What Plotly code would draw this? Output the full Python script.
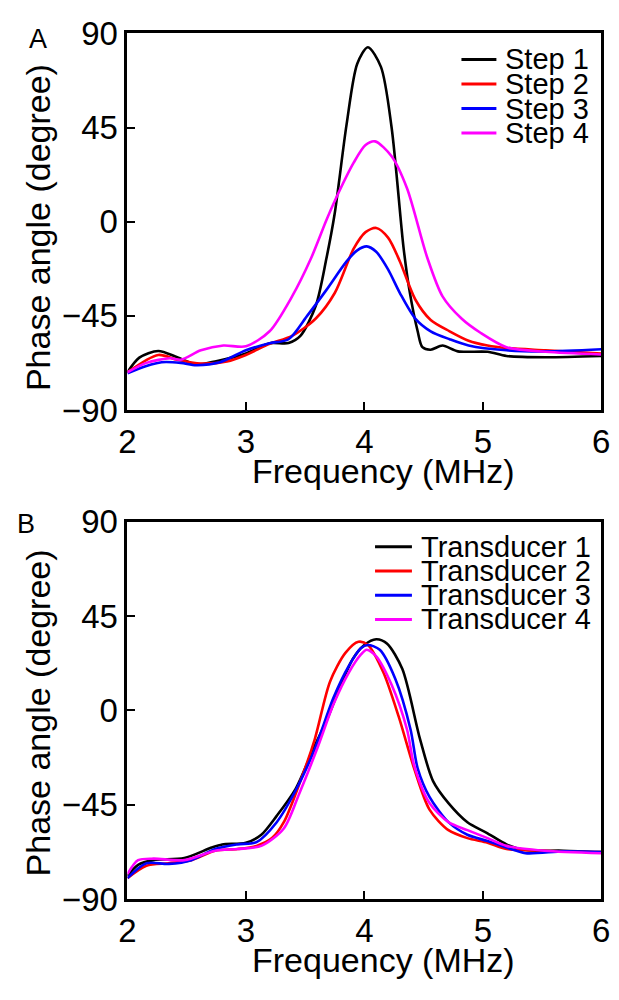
import plotly.graph_objects as go

W, H = 619, 1000

# ---------------- Data ----------------
step_names = ["Step 1", "Step 2", "Step 3", "Step 4"]
trans_names = ["Transducer 1", "Transducer 2", "Transducer 3", "Transducer 4"]
colors = ["#000000", "#ff0000", "#0000ff", "#ff00ff"]

step1_f = [2.0, 2.1, 2.26, 2.42, 2.58, 2.74, 3.0, 3.2, 3.36, 3.46, 3.59, 3.68, 3.75, 3.85, 3.94, 4.03,
           4.14, 4.23, 4.33, 4.38, 4.45, 4.49, 4.56, 4.66, 4.79, 5.04, 5.2, 5.53, 6.0]
step1_v = [-72, -65, -61.8, -64.8, -68.3, -66.8, -63, -58.1, -58, -54.6, -40.2, -17.5, 4, 46.5, 75.5, 83.4,
           74, 45, -12, -32.6, -52.4, -60, -61.2, -59.2, -62, -62.2, -64.2, -64.8, -64.2]

step2_f = [2.0, 2.26, 2.42, 2.62, 2.84, 3.0, 3.2, 3.39, 3.59, 3.75, 3.91, 4.01, 4.1, 4.2, 4.3, 4.43,
           4.56, 4.72, 4.88, 5.04, 5.2, 5.53, 6.0]
step2_v = [-72, -63.7, -66, -67.8, -66.8, -63.7, -58.4, -54.6, -46.3, -34.1, -12.9, -5, -3, -7.6, -19, -37.2,
           -47, -52.4, -56.9, -59.2, -60.4, -61.5, -63]

step3_f = [2.0, 2.16, 2.29, 2.45, 2.58, 2.78, 3.0, 3.2, 3.36, 3.52, 3.68, 3.85, 3.94, 4.02, 4.1, 4.2,
           4.3, 4.43, 4.56, 4.72, 4.88, 5.2, 5.53, 6.0]
step3_v = [-72.5, -69, -67.2, -67.5, -68.6, -67.2, -61.5, -58.1, -56.2, -44.8, -32.6, -19, -13.7, -11.8, -14.4, -22.8,
           -34.1, -46.3, -52.4, -56.2, -59.2, -61.5, -62, -61]

step4_f = [2.0, 2.16, 2.36, 2.45, 2.62, 2.81, 3.0, 3.2, 3.39, 3.55, 3.68, 3.75, 3.91, 4.01, 4.09, 4.23,
           4.36, 4.53, 4.66, 4.82, 4.98, 5.2, 5.53, 6.0]
step4_v = [-72, -67.5, -65.3, -66, -61.5, -59.2, -59.6, -52.4, -35.7, -17.5, 0.8, 9.9, 28.2, 36.6, 38.4, 31.3,
           16, -17, -35.7, -46.3, -53.1, -60, -62.2, -63.5]

tr1_f = [2.0, 2.09, 2.22, 2.48, 2.71, 2.8, 3.0, 3.13, 3.26, 3.42, 3.58, 3.68, 3.77, 3.9, 4.0, 4.1,
         4.19, 4.32, 4.47, 4.58, 4.71, 4.87, 5.04, 5.2, 5.36, 5.68, 6.0]
tr1_v = [-79, -73.7, -71.4, -70.4, -65.4, -63.9, -63.1, -59.3, -50.3, -37.4, -17, -5, 7.6, 24.3, 31.2, 33.9,
         31.9, 19.8, -13.7, -33.7, -44.2, -53.3, -58.6, -63.9, -66.6, -66.9, -67.6]

tr2_f = [2.0, 2.16, 2.35, 2.54, 2.74, 2.93, 3.09, 3.22, 3.32, 3.45, 3.58, 3.71, 3.84, 3.95, 4.03, 4.16,
         4.29, 4.42, 4.55, 4.71, 4.87, 5.04, 5.2, 5.52, 6.0]
tr2_v = [-80, -74.1, -72.9, -71.4, -66.9, -66.1, -64.6, -60.9, -53.3, -35.2, -14, 13.7, 27.4, 32.7, 31.2, 18.2,
         -3, -27.6, -47.3, -57.1, -60.9, -63.1, -66.1, -66.9, -67.6]

tr3_f = [2.0, 2.16, 2.35, 2.54, 2.74, 2.93, 3.09, 3.26, 3.42, 3.58, 3.74, 3.87, 3.97, 4.03, 4.13, 4.26,
         4.39, 4.45, 4.55, 4.71, 4.87, 5.04, 5.2, 5.36, 5.68, 6.0]
tr3_v = [-80, -72.9, -73.2, -71.4, -66.1, -63.9, -62.8, -53.3, -38.2, -18.6, 6.1, 21.3, 29.6, 31.2, 28.9, 15.2,
         -9.1, -27.6, -41.2, -53.3, -59.3, -62.3, -65.4, -68.1, -67.2, -67.6]

tr4_f = [2.0, 2.09, 2.22, 2.48, 2.74, 2.93, 3.13, 3.32, 3.45, 3.61, 3.74, 3.87, 3.97, 4.02, 4.1, 4.23,
         4.36, 4.42, 4.55, 4.71, 4.87, 5.04, 5.2, 5.52, 6.0]
tr4_v = [-78, -71.4, -70.7, -71.4, -66.9, -66.1, -64.6, -56.3, -39.7, -17, 3, 18.2, 26.6, 28.9, 25.8, 12.2,
         -9.1, -26.1, -44.2, -53.3, -57.1, -60.9, -64.6, -66.9, -68.1]

x_ticks = [2, 3, 4, 5, 6]
y_ticks = [-90, -45, 0, 45, 90]

# ---------------- Layout helpers ----------------
def px(x):
    return x / W

def py(y):
    return 1 - y / H

FONT = "Liberation Sans, Arial, sans-serif"

fig = go.Figure()

top_series = [(step1_f, step1_v), (step2_f, step2_v), (step3_f, step3_v), (step4_f, step4_v)]
bot_series = [(tr1_f, tr1_v), (tr2_f, tr2_v), (tr3_f, tr3_v), (tr4_f, tr4_v)]

for (f, v), name, c in zip(top_series, step_names, colors):
    fig.add_trace(go.Scatter(x=f, y=v, mode="lines", name=name, xaxis="x", yaxis="y",
                             line=dict(color=c, width=2.6, shape="spline", smoothing=0.8),
                             showlegend=False))
for (f, v), name, c in zip(bot_series, trans_names, colors):
    fig.add_trace(go.Scatter(x=f, y=v, mode="lines", name=name, xaxis="x2", yaxis="y2",
                             line=dict(color=c, width=2.6, shape="spline", smoothing=0.8),
                             showlegend=False))

axis_common = dict(showline=True, linecolor="black", linewidth=3, mirror=True,
                   ticks="inside", ticklen=8, tickwidth=2, tickcolor="black",
                   showgrid=False, zeroline=False, ticklabeloverflow="allow",
                   tickfont=dict(family=FONT, size=33, color="black"))

x_dom = [px(122), px(610)]
fig.update_layout(
    width=W, height=H,
    margin=dict(l=0, r=0, t=0, b=0),
    paper_bgcolor="white", plot_bgcolor="white",
    showlegend=False,
    xaxis=dict(domain=x_dom, range=[2, 6], tickvals=x_ticks, anchor="y", **axis_common),
    yaxis=dict(domain=[py(407), py(16)], range=[-90, 90], tickvals=y_ticks, anchor="x", **axis_common),
    xaxis2=dict(domain=x_dom, range=[2, 6], tickvals=x_ticks, anchor="y2", **axis_common),
    yaxis2=dict(domain=[py(915), py(523)], range=[-90, 90], tickvals=y_ticks, anchor="x2", **axis_common),
)

annotations = []
shapes = []

# axis titles
for (yc, xl_y) in [(218, 470), (722, 978)]:
    annotations.append(dict(x=px(30), y=py(yc), xref="paper", yref="paper", text="Phase angle (degree)",
                            textangle=-90, showarrow=False, xanchor="center", yanchor="middle",
                            font=dict(family=FONT, size=34, color="black")))
    annotations.append(dict(x=px(386), y=py(xl_y), xref="paper", yref="paper", text="Frequency (MHz)",
                            showarrow=False, xanchor="center", yanchor="middle",
                            font=dict(family=FONT, size=34, color="black")))

# panel letters
annotations.append(dict(x=px(30), y=py(22), xref="paper", yref="paper", text="A", showarrow=False,
                        xanchor="center", yanchor="middle", font=dict(family=FONT, size=27, color="black")))
annotations.append(dict(x=px(18), y=py(525), xref="paper", yref="paper", text="B", showarrow=False,
                        xanchor="center", yanchor="middle", font=dict(family=FONT, size=27, color="black")))

# manual legends (compact row spacing, as in the reference)
def add_legend(names, line_x0, line_x1, text_x, row0, gap):
    for i, (n, c) in enumerate(zip(names, colors)):
        yy = row0 + i * gap
        shapes.append(dict(type="line", xref="paper", yref="paper", x0=px(line_x0), x1=px(line_x1),
                           y0=py(yy), y1=py(yy), line=dict(color=c, width=3)))
        annotations.append(dict(x=px(text_x), y=py(yy), xref="paper", yref="paper", text=n,
                                showarrow=False, xanchor="left", yanchor="middle",
                                font=dict(family=FONT, size=29, color="black")))

add_legend(step_names, 466, 502, 509, 43, 25.5)
add_legend(trans_names, 377, 415, 422, 549, 25.2)

fig.update_layout(annotations=annotations, shapes=shapes)

fig.write_html("out.html")
